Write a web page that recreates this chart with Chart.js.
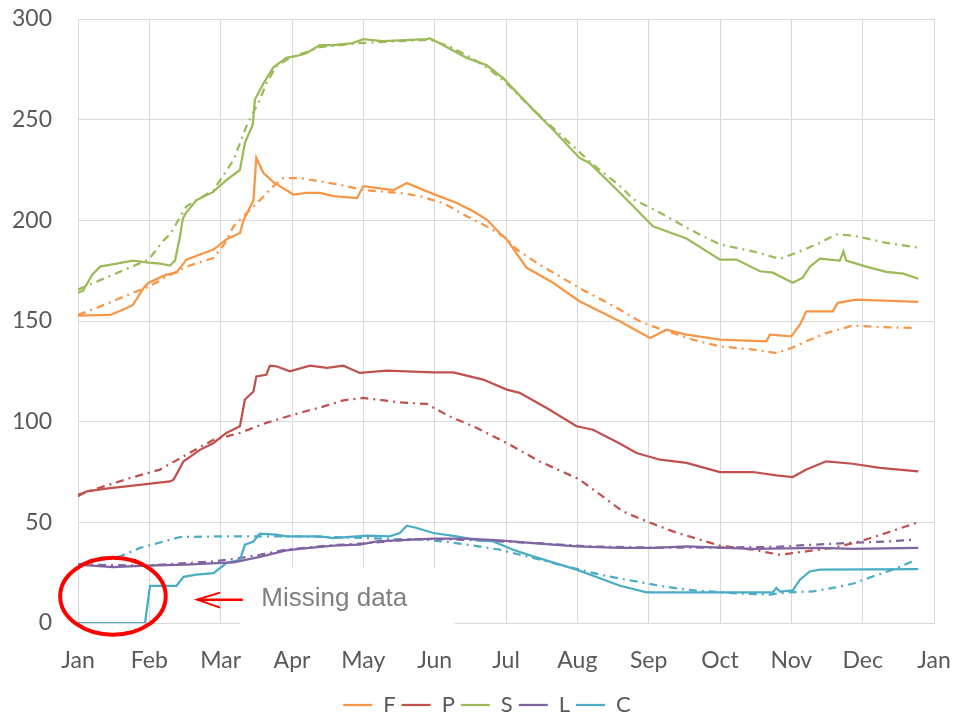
<!DOCTYPE html>
<html>
<head>
<meta charset="utf-8">
<script src="https://cdn.jsdelivr.net/npm/chart.js@4/dist/chart.umd.min.js"></script>
<style>
  html, body { margin: 0; padding: 0; background: #fff; }
  #wrap { width: 957px; height: 718px; }
</style>
</head>
<body>
<div id="wrap"><canvas id="chart" width="957" height="718"></canvas></div>
<script>
// x = months since 1 Jan, y = value
const monthLabels = ["Jan", "Feb", "Mar", "Apr", "May", "Jun", "Jul", "Aug", "Sep", "Oct", "Nov", "Dec", "Jan"];
const yTicks = [0, 50, 100, 150, 200, 250, 300];
const seriesNames = ["F", "P", "S", "L", "C"];
const seriesColors = ["#F79646", "#C0504D", "#9BBB59", "#8064A2", "#4BACC6"];

// measured (solid)
const fObs = [[0,152.7],[0.45,153],[0.63,155.6],[0.77,158],[0.92,166.4],[0.99,169],[1.24,173],[1.38,174],[1.52,180.5],[1.71,183],[1.90,185.5],[2.08,190.5],[2.27,193.7],[2.32,200],[2.46,210],[2.50,231],[2.60,223.5],[2.74,219],[3.02,212.8],[3.20,213.6],[3.39,213.6],[3.58,212],[3.91,211],[4.00,217],[4.42,215],[4.61,218.6],[4.89,214.4],[5.31,208.6],[5.54,204.5],[5.73,200.4],[5.91,193.7],[6.01,190.5],[6.29,176.4],[6.66,169],[7.03,159.8],[7.60,149.8],[8.02,141.6],[8.25,145.7],[8.53,143.2],[9.00,140.7],[9.65,139.9],[9.70,143.2],[10.00,142.4],[10.12,148.2],[10.21,154.8],[10.58,154.8],[10.65,159],[10.91,160.6],[11.78,159.5]];
const pObs = [[0,62.9],[0.12,65.4],[0.45,67],[0.77,68.2],[1.29,70.3],[1.34,71.2],[1.48,80.3],[1.71,86],[1.90,89.4],[2.08,94.4],[2.27,97.7],[2.34,111],[2.46,115],[2.50,122.5],[2.64,123.3],[2.69,127.8],[2.78,127.5],[2.97,125],[3.25,127.8],[3.49,126.7],[3.72,127.8],[3.95,124.2],[4.33,125.3],[4.98,124.5],[5.26,124.5],[5.68,120.9],[6.01,115.9],[6.19,114.3],[6.57,106.8],[6.99,97.7],[7.22,96],[7.60,89],[7.83,84.4],[8.16,81.1],[8.53,79.5],[9.00,75],[9.46,75],[9.79,73.3],[10.02,72.5],[10.21,76.2],[10.49,80.3],[10.86,79.1],[11.24,77],[11.78,75.3]];
const sObs = [[0,164],[0.07,165],[0.20,173],[0.31,177],[0.77,180],[0.99,179],[1.15,178.5],[1.29,177.5],[1.36,180],[1.43,192],[1.47,201],[1.52,204],[1.66,210],[1.89,214],[2.08,220],[2.27,225],[2.34,238.5],[2.45,247.5],[2.48,260],[2.60,268],[2.74,276],[2.92,280.7],[3.11,282],[3.20,283],[3.39,287],[3.58,287],[3.85,288],[4.00,290],[4.27,289],[4.89,290],[4.93,290.5],[5.07,288],[5.45,280.7],[5.73,277],[5.96,270.7],[6.38,255],[6.66,245],[7.03,231],[7.17,228.5],[7.60,213.6],[8.06,197],[8.53,191],[9.00,180.5],[9.23,180.5],[9.56,174.7],[9.74,174],[10.02,169],[10.16,171.5],[10.26,177],[10.40,181],[10.68,180],[10.73,184.6],[10.77,180],[11.05,177],[11.33,174.4],[11.57,173.5],[11.78,171]];
const lObs = [[0,29],[0.49,27.8],[0.96,28.5],[1.52,29],[1.94,29.8],[2.18,30.1],[2.55,32.8],[2.92,36.1],[3.11,36.8],[3.58,38.4],[3.95,38.9],[4.19,40.5],[4.98,41.9],[5.45,41.9],[5.91,41],[6.38,39.7],[6.99,38],[7.60,37.3],[8.06,37.3],[8.53,38],[9.46,36.8],[10.40,37.3],[10.86,36.8],[11.78,37.3]];
const cObs = [[0,0],[0.94,0],[1.01,18.5],[1.38,18.5],[1.48,22.9],[1.66,24],[1.90,24.8],[2.08,29.8],[2.27,31.4],[2.34,38.9],[2.46,40.5],[2.55,44.4],[2.78,43.9],[2.92,43],[3.39,43],[3.58,42.2],[4.05,43.4],[4.37,43],[4.51,44.7],[4.61,48.3],[4.75,47.2],[4.98,44.7],[5.31,43],[5.54,41.4],[5.82,40.5],[6.10,36.4],[6.38,33.1],[6.99,26.5],[7.60,18.5],[7.97,15.2],[9.00,15.2],[9.74,15.2],[9.79,17.4],[9.84,15.6],[10.02,16.2],[10.12,21.5],[10.26,25.6],[10.40,26.5],[11.78,26.8]];

// modelled (dash-dot)
const fMod = [[0,153],[0.26,156.5],[0.77,164],[0.99,167],[1.24,172],[1.52,177],[1.90,181.3],[2.05,188],[2.18,197],[2.32,202],[2.55,210],[2.74,217],[2.88,221],[3.11,221],[3.39,219.4],[3.67,217.7],[4.00,215],[4.51,213.6],[4.79,212],[5.12,208.6],[5.45,202],[5.73,197],[6.01,191],[6.15,185.5],[6.47,178],[7.03,166.4],[7.60,155.6],[7.88,149.8],[8.06,147.3],[8.62,140.7],[9.00,137.4],[9.46,135.8],[9.79,134.1],[10.00,136.6],[10.21,139.9],[10.49,144],[10.86,147.7],[11.24,147],[11.75,146.5]];
const pMod = [[0,63.7],[0.73,72],[1.15,76.2],[1.52,83.6],[1.90,91],[2.27,94.4],[2.64,99.4],[3.02,103.5],[3.39,107],[3.72,110.6],[4.00,111.8],[4.51,109.6],[4.89,108.8],[5.21,102.6],[5.54,97.7],[6.01,89.4],[6.47,80.3],[7.03,71.3],[7.64,55.4],[7.97,50.5],[8.34,45.5],[8.72,41.4],[9.00,38.4],[9.46,36.4],[9.84,33.9],[10.21,35.6],[10.58,37.3],[10.96,40.5],[11.33,44.7],[11.75,49.7]];
const sMod = [[0,165.6],[0.99,180.5],[1.20,190],[1.29,193],[1.52,207],[1.90,215],[2.18,230],[2.36,246.7],[2.55,260],[2.64,268],[2.78,276.5],[2.97,280.7],[3.39,286],[3.95,288],[4.51,289],[4.93,289.7],[5.21,286.4],[5.50,281],[5.77,275],[6.01,268],[6.38,255],[6.94,236.8],[7.22,227.7],[7.60,217],[7.78,210.6],[8.16,203.8],[8.58,195.4],[8.86,190.4],[9.00,188],[9.46,184.6],[9.84,180.8],[10.12,184.6],[10.40,188.8],[10.63,193],[10.86,192.5],[11.33,188.8],[11.68,187],[11.78,186.5]];
const lMod = [[0,29],[0.96,28.5],[1.90,30.6],[2.18,31.8],[2.55,33.9],[2.92,36.4],[3.50,38.5],[4.00,39.5],[4.70,41.7],[5.12,41.7],[5.80,40.8],[6.50,39.5],[7.20,38],[8.00,37.5],[9.00,37.5],[9.80,37.8],[10.30,38.9],[10.77,39.7],[11.33,40.5],[11.71,41.4]];
const cMod = [[0,29],[0.59,33.1],[0.87,37.3],[1.20,40.5],[1.43,42.7],[1.90,43],[3.11,43],[3.58,42.7],[4.42,41.7],[4.75,41.7],[5.12,40.5],[5.45,38.9],[5.91,36.4],[6.29,33.1],[6.85,28.1],[7.32,24],[7.69,21.5],[8.16,18.5],[8.53,16.5],[9.28,14.6],[9.70,14.1],[9.93,15.2],[10.30,15.7],[10.58,17.4],[10.86,19.5],[11.14,23.1],[11.42,26.5],[11.75,31.4]];

const observed = [fObs, pObs, sObs, lObs, cObs];
const modelled = [fMod, pMod, sMod, lMod, cMod];

const toPoints = (arr) => arr.map(([x, y]) => ({ x, y }));

const datasets = [];
seriesNames.forEach((name, i) => {
  datasets.push({
    label: name,
    data: toPoints(observed[i]),
    borderColor: seriesColors[i],
    backgroundColor: seriesColors[i],
    borderWidth: 2.25,
    pointRadius: 0,
    tension: 0,
  });
});
seriesNames.forEach((name, i) => {
  datasets.push({
    label: name + " model",
    data: toPoints(modelled[i]),
    borderColor: seriesColors[i],
    backgroundColor: seriesColors[i],
    borderWidth: 2.25,
    borderDash: [8, 5, 2, 5],
    pointRadius: 0,
    tension: 0,
  });
});

// "Missing data" callout, placed in data units
const missingNote = {
  id: "missingNote",
  afterLayout(chart) {
    // legend sits a little right of the canvas centre
    chart.legend.left += 40;
  },
  afterDatasetsDraw(chart) {
    const { ctx, scales: { x, y } } = chart;
    ctx.save();
    // white text box covering grid
    const bx0 = x.getPixelForValue(2.27), bx1 = x.getPixelForValue(5.28);
    const by0 = y.getPixelForValue(27.5), by1 = y.getPixelForValue(-1);
    ctx.fillStyle = "#ffffff";
    ctx.fillRect(bx0, by0, bx1 - bx0, by1 - by0);
    ctx.fillStyle = "#7f7f7f";
    ctx.font = "26px 'Liberation Sans', Arial, sans-serif";
    ctx.textBaseline = "alphabetic";
    ctx.fillText("Missing data", x.getPixelForValue(2.57), y.getPixelForValue(8.6));

    // arrow
    const ay = y.getPixelForValue(11.6);
    const ax0 = x.getPixelForValue(2.31), ax1 = x.getPixelForValue(1.67);
    ctx.strokeStyle = "#ff0000";
    ctx.lineWidth = 2.5;
    ctx.beginPath();
    ctx.moveTo(ax0, ay);
    ctx.lineTo(ax1, ay);
    ctx.stroke();
    ctx.lineWidth = 2;
    ctx.beginPath();
    ctx.moveTo(ax1 + 23, ay - 7);
    ctx.lineTo(ax1, ay);
    ctx.lineTo(ax1 + 23, ay + 8);
    ctx.stroke();

    // ellipse
    const cx = x.getPixelForValue(0.49), cy = y.getPixelForValue(13.3);
    const rx = x.getPixelForValue(0.49 + 0.74) - cx;
    const ry = cy - y.getPixelForValue(13.3 + 19.1);
    ctx.lineWidth = 4;
    ctx.beginPath();
    ctx.ellipse(cx, cy, rx, ry, 0, 0, Math.PI * 2);
    ctx.stroke();
    ctx.restore();
  },
};

const tickFont = { family: "Lato, 'Open Sans', sans-serif", size: 23 };

new Chart(document.getElementById("chart"), {
  type: "line",
  data: { datasets },
  options: {
    responsive: false,
    animation: false,
    layout: { padding: { top: 19, right: 23, left: 0, bottom: -8 } },
    scales: {
      x: {
        type: "linear",
        min: 0,
        max: 12,
        afterBuildTicks: (scale) => {
          scale.ticks = monthLabels.map((_, i) => ({ value: i }));
        },
        afterFit: (scale) => { scale.height = 65; },
        ticks: {
          color: "#595959",
          font: tickFont,
          padding: 0,
          maxRotation: 0,
          autoSkip: false,
          callback: (v) => monthLabels[v],
        },
        grid: { color: "#d9d9d9", lineWidth: 1, drawTicks: true, tickLength: 24, tickColor: "rgba(0,0,0,0)" },
        border: { color: "#d9d9d9" },
      },
      y: {
        min: 0,
        max: 300,
        afterBuildTicks: (scale) => {
          scale.ticks = yTicks.map((v) => ({ value: v }));
        },
        afterFit: (scale) => { scale.width = 78; },
        ticks: { color: "#595959", font: tickFont, padding: 0 },
        grid: { color: "#d9d9d9", lineWidth: 1, drawTicks: true, tickLength: 26, tickColor: "rgba(0,0,0,0)" },
        border: { color: "#d9d9d9" },
      },
    },
    plugins: {
      legend: {
        position: "bottom",
        labels: {
          filter: (item) => item.datasetIndex < 5,
          usePointStyle: true,
          pointStyle: "line",
          pointStyleWidth: 29,
          color: "#595959",
          font: { family: "Lato, 'Open Sans', sans-serif", size: 22 },
          padding: 6,
        },
      },
      tooltip: { enabled: false },
    },
  },
  plugins: [missingNote],
});
</script>
</body>
</html>
